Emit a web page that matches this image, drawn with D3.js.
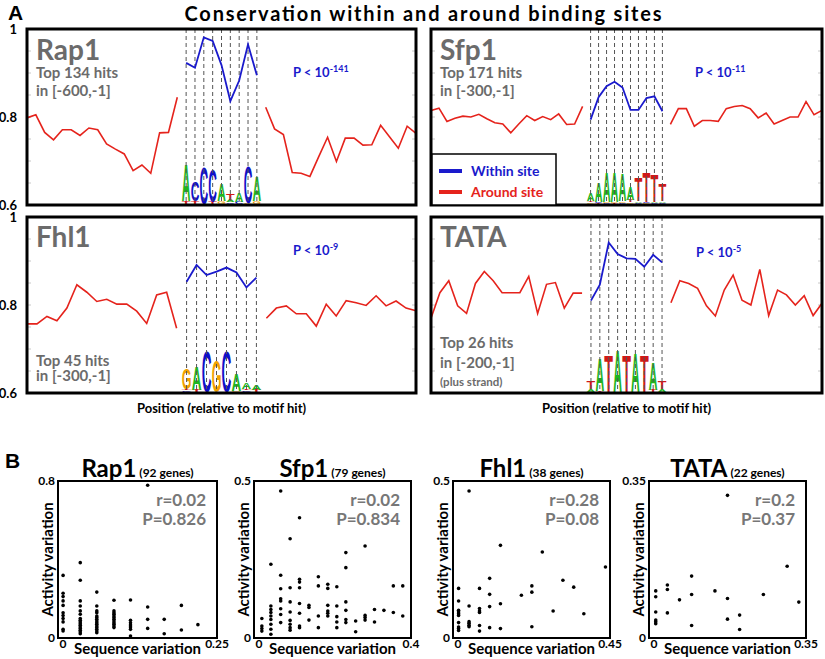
<!DOCTYPE html>
<html>
<head>
<meta charset="utf-8">
<script src="https://cdn.jsdelivr.net/npm/d3@7"></script>
<style>
  body { margin: 0; background: #fff; }
  svg { display: block; }
</style>
</head>
<body>
<script>
// ---- panel A: conservation around / within the motif hits ----
var rap1Left  = [0.798,0.805,0.765,0.748,0.771,0.771,0.758,0.775,0.771,0.739,0.727,0.716,0.678,0.691,0.672,0.764,0.765,0.845];
var rap1Site  = [0.923,0.912,0.981,0.973,0.918,0.836,0.883,0.965,0.895];
var rap1Right = [0.822,0.773,0.760,0.674,0.672,0.665,0.710,0.754,0.699,0.752,0.752,0.736,0.737,0.781,0.755,0.729,0.779,0.763];
var rap1Logo  = [[["T",0.15],["A",1.75]],[["T",0.15],["C",0.95]],[["C",1.75]],[["T",0.1],["C",1.6]],[["G",0.15],["A",0.85]],
                 [["C",0.08],["A",0.1],["T",0.3]],[["C",0.1],["A",0.45]],[["G",0.05],["C",1.75]],[["G",0.15],["A",1.2]]];

var sfp1Left  = [0.815,0.820,0.790,0.797,0.802,0.800,0.806,0.796,0.787,0.784,0.764,0.784,0.803,0.792,0.801,0.794,0.807,0.783,0.784,0.824];
var sfp1Site  = [0.794,0.845,0.870,0.880,0.867,0.816,0.816,0.843,0.847,0.813];
var sfp1Right = [0.783,0.819,0.819,0.779,0.792,0.792,0.790,0.819,0.824,0.826,0.819,0.798,0.809,0.784,0.792,0.800,0.800,0.835,0.805,0.815];
var sfp1Logo  = [[["G",0.08],["T",0.08],["A",0.35]],[["T",0.05],["C",0.05],["A",0.95]],[["C",0.05],["G",0.05],["A",1.45]],
                 [["T",0.05],["G",0.05],["A",1.45]],[["C",0.05],["G",0.08],["A",1.3]],[["G",0.08],["T",0.1],["A",0.65]],
                 [["C",0.05],["A",0.08],["T",1.15]],[["G",0.05],["C",0.05],["T",1.45]],[["C",0.05],["A",0.05],["T",1.35]],
                 [["C",0.05],["A",0.08],["T",0.85]]];

var fhl1Left  = [0.757,0.757,0.774,0.764,0.793,0.846,0.829,0.808,0.813,0.802,0.802,0.786,0.758,0.823,0.829,0.747];
var fhl1Site  = [0.853,0.891,0.868,0.876,0.885,0.874,0.840,0.862];
var fhl1Right = [0.770,0.793,0.798,0.780,0.780,0.752,0.802,0.775,0.810,0.805,0.799,0.821,0.798,0.809,0.793,0.787];
var fhl1Logo  = [[["C",0.08],["T",0.05],["G",1.0]],[["T",0.1],["A",1.15]],[["C",1.95]],[["G",1.55]],[["C",1.95]],
                 [["G",0.05],["A",0.85]],[["C",0.08],["T",0.05],["A",0.3]],[["T",0.1],["A",0.25]]];

var tataLeft  = [0.770,0.828,0.855,0.798,0.781,0.849,0.876,0.855,0.828,0.828,0.828,0.865,0.781,0.847,0.851,0.793,0.827,0.827];
var tataSite  = [0.810,0.846,0.942,0.916,0.906,0.905,0.887,0.914,0.897];
var tataRight = [0.805,0.855,0.849,0.838,0.798,0.775,0.834,0.868,0.811,0.800,0.881,0.776,0.834,0.823,0.800,0.821,0.776,0.804];
var tataLogo  = [[["A",0.15],["T",0.35]],[["T",0.05],["A",1.6]],[["T",1.8]],[["A",2.0]],[["T",1.8]],[["A",1.9]],
                 [["T",1.75]],[["T",0.1],["A",1.3]],[["A",0.15],["T",0.35]]];

var consTicks = [0.6, 0.8, 1];

// ---- panel B: activity vs sequence variation (points grouped by x level) ----
var rap1Seq = [0.008,0.035,0.061,0.088,0.114,0.141,0.167,0.194,0.220];
var rap1Act = [
  [0.319,0.228,0.211,0.189,0.166,0.129,0.115,0.099,0.082,0.044,0.036],
  [0.384,0.294,0.189,0.163,0.138,0.121,0.099,0.090,0.082,0.073,0.065,0.056,0.048,0.039,0.031,0.022],
  [0.234,0.163,0.138,0.129,0.112,0.104,0.095,0.087,0.078,0.070,0.061,0.053,0.044,0.036,0.027],
  [0.192,0.138,0.129,0.121,0.112,0.104,0.095,0.087,0.078,0.070,0.061,0.053],
  [0.194,0.090,0.078,0.066,0.056,0.044,0.010],
  [0.778,0.158,0.095,0.049],
  [0.095,0.022],
  [0.166,0.041],
  [0.068]];

var sfp1Seq = [0.020,0.043,0.068,0.092,0.116,0.140,0.164,0.188,0.211,0.234,0.259,0.283,0.307,0.331,0.355,0.379];
var sfp1Act = [
  [0.062,0.038,0.030,0.022],
  [0.235,0.102,0.091,0.081,0.070,0.059,0.044,0.028,0.012],
  [0.468,0.200,0.157,0.125,0.118,0.093,0.075,0.049],
  [0.316,0.160,0.115,0.083,0.056,0.044,0.033,0.025],
  [0.383,0.187,0.178,0.160,0.110,0.079,0.038,0.033],
  [0.104,0.097,0.057],
  [0.195,0.166,0.070,0.033],
  [0.171,0.158,0.104,0.086,0.079,0.070],
  [0.163,0.102,0.068,0.051,0.033],
  [0.272,0.224,0.115,0.088,0.059,0.049],
  [0.054,0.020],
  [0.293,0.072,0.065,0.057],
  [0.091,0.051],
  [0.088],
  [0.166,0.081],
  [0.166,0.070]];

var fhl1Seq = [0.016,0.046,0.076,0.105,0.136,0.196,0.226,0.256,0.287,0.315,0.346,0.375,0.437];
var fhl1Act = [
  [0.158,0.118,0.088,0.083,0.077,0.072,0.049,0.035,0.030,0.024],
  [0.468,0.102,0.052,0.047,0.041,0.036],
  [0.158,0.094,0.086,0.081,0.040,0.022],
  [0.190,0.139,0.100,0.033],
  [0.295,0.109,0.030],
  [0.136],
  [0.166,0.146,0.036],
  [0.274],
  [0.086],
  [0.184],
  [0.162],
  [0.077],
  [0.226]];

var tataSeq = [0.015,0.041,0.068,0.095,0.147,0.175,0.202,0.255,0.308,0.334];
var tataAct = [
  [0.105,0.092,0.058,0.040,0.036,0.032],
  [0.118,0.108,0.056],
  [0.085],
  [0.138,0.097,0.028],
  [0.105],
  [0.318,0.088,0.042],
  [0.051,0.019],
  [0.097],
  [0.160],
  [0.080]];

var LETTER = {A: "#1fb51f", C: "#1010c8", G: "#f2a200", T: "#d01818"};
var BIT_PX = 21;
var GRAY = "#6b6b6b";
var BLUE = "#1a1acc";
var RED = "#e5231c";
var FONT = "Lato, 'Open Sans', sans-serif";

var svg = d3.select("body").append("svg")
    .attr("width", 825)
    .attr("height", 659)
    .style("font-family", FONT)
    .style("font-weight", "bold");

svg.append("text").attr("x", 8).attr("y", 20)
    .attr("font-family", "'Liberation Sans', Arial, sans-serif").attr("font-size", 21).text("A");
svg.append("text").attr("x", 423).attr("y", 21).attr("text-anchor", "middle")
    .attr("font-size", 20).attr("textLength", 477).attr("lengthAdjust", "spacing")
    .text("Conservation within and around binding sites");

var panelsA = [
  {name: "Rap1", left: rap1Left, site: rap1Site, right: rap1Right, logo: rap1Logo, box: [27, 29, 416, 205], axis: true,
   nameY: 60, info: [["Top 134 hits", 78, 15], ["in [-600,-1]", 96, 15]], exp: "-141", pAt: [293, 77]},
  {name: "Sfp1", left: sfp1Left, site: sfp1Site, right: sfp1Right, logo: sfp1Logo, box: [431, 29, 822, 205], axis: false,
   nameY: 60, info: [["Top 171 hits", 78, 15], ["in [-300,-1]", 96, 15]], exp: "-11", pAt: [695, 77], legend: true},
  {name: "Fhl1", left: fhl1Left, site: fhl1Site, right: fhl1Right, logo: fhl1Logo, box: [27, 217, 416, 393], axis: true,
   nameY: 247, info: [["Top 45 hits", 366, 15], ["in [-300,-1]", 381, 15]], exp: "-9", pAt: [293, 255]},
  {name: "TATA", left: tataLeft, site: tataSite, right: tataRight, logo: tataLogo, box: [431, 217, 822, 393], axis: false,
   nameY: 247, info: [["Top 26 hits", 348, 15], ["in [-200,-1]", 368, 15], ["(plus strand)", 386, 11.5]], exp: "-5", pAt: [696, 257]}
];

panelsA.forEach(function (p) {
  var x0 = p.box[0], y0 = p.box[1], x1 = p.box[2], y1 = p.box[3];
  var nL = p.left.length, nS = p.site.length;
  var n = nL + nS + p.right.length;
  var x = d3.scaleLinear().domain([0, n - 1]).range([x0, x1]);
  var y = d3.scaleLinear().domain([0.6, 1]).range([y1, y0]);
  var step = x(1) - x(0);
  var g = svg.append("g");

  // faint inner ticks
  d3.range(0.65, 0.999, 0.05).forEach(function (v) {
    g.append("line").attr("x1", x0).attr("x2", x0 + 4).attr("y1", y(v)).attr("y2", y(v)).attr("stroke", "#c8c8c8");
    g.append("line").attr("x1", x1 - 4).attr("x2", x1).attr("y1", y(v)).attr("y2", y(v)).attr("stroke", "#c8c8c8");
  });

  // sequence logo
  p.logo.forEach(function (col, j) {
    var base = y1 - 1;
    col.forEach(function (c) {
      var h = c[1] * BIT_PX;
      g.append("text")
          .attr("x", x(nL + j) - step * 0.49)
          .attr("y", base)
          .attr("font-family", "'Liberation Sans', Arial, sans-serif")
          .attr("font-size", h / 0.72)
          .attr("textLength", step * 0.98)
          .attr("lengthAdjust", "spacingAndGlyphs")
          .attr("fill", LETTER[c[0]])
          .text(c[0]);
      base -= h;
    });
  });

  // dashed position guides
  d3.range(nL, nL + nS).forEach(function (i) {
    g.append("line").attr("x1", x(i)).attr("x2", x(i)).attr("y1", y0).attr("y2", y1)
        .attr("stroke", "#555").attr("stroke-width", 1).attr("stroke-dasharray", "4,3");
  });

  var line = d3.line().x(function (d) { return x(d[0]); }).y(function (d) { return y(d[1]); });
  var leftPts = p.left.map(function (v, i) { return [i, v]; });
  var sitePts = p.site.map(function (v, i) { return [nL + i, v]; });
  var rightPts = p.right.map(function (v, i) { return [nL + nS + i, v]; });
  g.append("path").attr("d", line(leftPts)).attr("fill", "none").attr("stroke", RED).attr("stroke-width", 1.6);
  g.append("path").attr("d", line(rightPts)).attr("fill", "none").attr("stroke", RED).attr("stroke-width", 1.6);
  g.append("path").attr("d", line(sitePts)).attr("fill", "none").attr("stroke", BLUE).attr("stroke-width", 1.8);

  g.append("rect").attr("x", x0).attr("y", y0).attr("width", x1 - x0).attr("height", y1 - y0)
      .attr("fill", "none").attr("stroke", "#000").attr("stroke-width", 3);

  if (p.axis) {
    consTicks.forEach(function (v) {
      g.append("text").attr("x", 17).attr("y", y(v)).attr("dy", "0.35em").attr("text-anchor", "end")
          .attr("font-size", 13).text(v === 1 ? "1" : v.toFixed(1));
    });
  }

  g.append("text").attr("x", x0 + 9).attr("y", p.nameY).attr("font-size", 28).attr("fill", GRAY).text(p.name);
  p.info.forEach(function (t) {
    g.append("text").attr("x", x0 + 9).attr("y", t[1]).attr("font-size", t[2]).attr("fill", GRAY).text(t[0]);
  });
  var pt = g.append("text").attr("x", p.pAt[0]).attr("y", p.pAt[1]).attr("font-size", 13).attr("fill", BLUE);
  pt.append("tspan").text("P < 10");
  pt.append("tspan").attr("dy", -5).attr("font-size", 9).text(p.exp);

  if (p.legend) {
    g.append("rect").attr("x", x0 + 1).attr("y", 154).attr("width", 124).attr("height", y1 - 154)
        .attr("fill", "#fff").attr("stroke", "#000").attr("stroke-width", 1.5);
    [["Within site", BLUE, 171], ["Around site", RED, 192]].forEach(function (l) {
      g.append("line").attr("x1", x0 + 8).attr("x2", x0 + 31).attr("y1", l[2]).attr("y2", l[2])
          .attr("stroke", l[1]).attr("stroke-width", 4);
      g.append("text").attr("x", x0 + 40).attr("y", l[2] + 5).attr("font-size", 14).attr("fill", l[1]).text(l[0]);
    });
  }

  if (y0 > 100) {
    g.append("text").attr("x", (x0 + x1) / 2).attr("y", 413).attr("text-anchor", "middle")
        .attr("font-size", 13).text("Position (relative to motif hit)");
  }
});

// ---- panel B ----
svg.append("text").attr("x", 5).attr("y", 468)
    .attr("font-family", "'Liberation Sans', Arial, sans-serif").attr("font-size", 21).text("B");

var plotsB = [
  {name: "Rap1", genes: "(92 genes)", seq: rap1Seq, act: rap1Act, xMax: 0.25, yMax: 0.8, xLab: "0.25", yLab: "0.8", r: "r=0.02", pv: "P=0.826", x0: 58, x1: 217},
  {name: "Sfp1", genes: "(79 genes)", seq: sfp1Seq, act: sfp1Act, xMax: 0.4, yMax: 0.5, xLab: "0.4", yLab: "0.5", r: "r=0.02", pv: "P=0.834", x0: 254, x1: 411},
  {name: "Fhl1", genes: "(38 genes)", seq: fhl1Seq, act: fhl1Act, xMax: 0.45, yMax: 0.5, xLab: "0.45", yLab: "0.5", r: "r=0.28", pv: "P=0.08", x0: 453, x1: 610},
  {name: "TATA", genes: "(22 genes)", seq: tataSeq, act: tataAct, xMax: 0.35, yMax: 0.35, xLab: "0.35", yLab: "0.35", r: "r=0.2", pv: "P=0.37", x0: 649, x1: 806}
];

plotsB.forEach(function (p) {
  var top = 481, bottom = 638;
  var x = d3.scaleLinear().domain([0, p.xMax]).range([p.x0, p.x1]);
  var y = d3.scaleLinear().domain([0, p.yMax]).range([bottom, top]);
  var g = svg.append("g");
  var pts = [];
  p.seq.forEach(function (s, i) { p.act[i].forEach(function (a) { pts.push([s, a]); }); });

  g.selectAll("circle").data(pts).enter().append("circle")
      .attr("cx", function (d) { return x(d[0]); })
      .attr("cy", function (d) { return y(d[1]); })
      .attr("r", 1.8)
      .attr("fill", "#000");

  g.append("rect").attr("x", p.x0).attr("y", top).attr("width", p.x1 - p.x0).attr("height", bottom - top)
      .attr("fill", "none").attr("stroke", "#000").attr("stroke-width", 2);

  var cx = (p.x0 + p.x1) / 2;
  var t = g.append("text").attr("x", cx).attr("y", 477).attr("text-anchor", "middle").attr("font-size", 24);
  t.append("tspan").text(p.name);
  t.append("tspan").attr("font-size", 12).attr("dx", 3).text(p.genes);

  g.append("text").attr("x", p.x0 - 3).attr("y", y(p.yMax)).attr("dy", "0.35em").attr("text-anchor", "end")
      .attr("font-size", 12).text(p.yLab);
  g.append("text").attr("x", p.x0 - 3).attr("y", y(0)).attr("dy", "0.35em").attr("text-anchor", "end")
      .attr("font-size", 12).text("0");
  g.append("text").attr("x", x(0) + 5).attr("y", 648).attr("text-anchor", "middle").attr("font-size", 12).text("0");
  g.append("text").attr("x", x(p.xMax)).attr("y", 648).attr("text-anchor", "middle").attr("font-size", 12).text(p.xLab);

  g.append("text").attr("x", cx).attr("y", 654).attr("text-anchor", "middle").attr("font-size", 15).text("Sequence variation");
  g.append("text").attr("transform", "translate(" + (p.x0 - 5) + "," + ((top + bottom) / 2) + ") rotate(-90)")
      .attr("text-anchor", "middle").attr("font-size", 15).text("Activity variation");

  g.append("text").attr("x", p.x1 - 11).attr("y", 506).attr("text-anchor", "end").attr("font-size", 17).attr("fill", "#777").text(p.r);
  g.append("text").attr("x", p.x1 - 11).attr("y", 525).attr("text-anchor", "end").attr("font-size", 17).attr("fill", "#777").text(p.pv);
});
</script>
</body>
</html>
